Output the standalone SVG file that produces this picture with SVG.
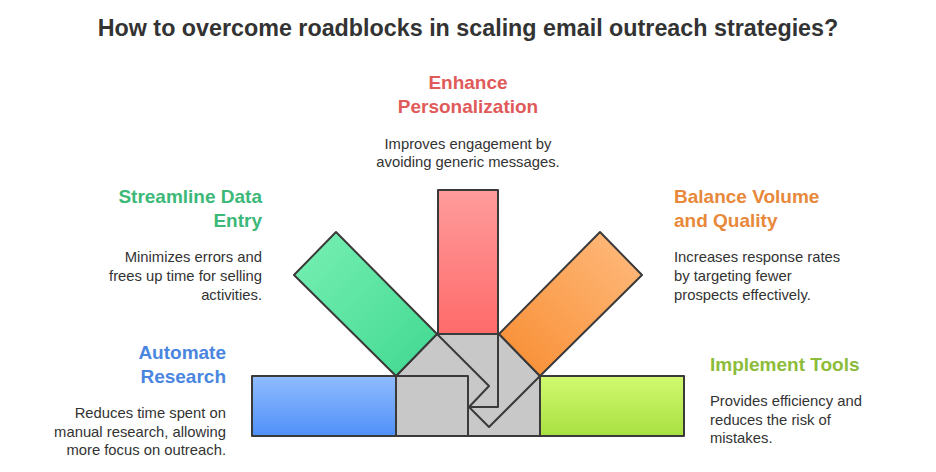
<svg xmlns="http://www.w3.org/2000/svg" width="936" height="472" viewBox="0 0 936 472">
<defs>
<linearGradient id="gR" x1="0" y1="0" x2="0" y2="1"><stop offset="0" stop-color="#ff9c9c"/><stop offset="1" stop-color="#ff6a6a"/></linearGradient>
<linearGradient id="gG" x1="0" y1="0" x2="1" y2="1"><stop offset="0" stop-color="#78f0b4"/><stop offset="1" stop-color="#40d890"/></linearGradient>
<linearGradient id="gO" x1="1" y1="0" x2="0" y2="1"><stop offset="0" stop-color="#ffbc80"/><stop offset="1" stop-color="#f88c30"/></linearGradient>
<linearGradient id="gB" x1="0" y1="0" x2="0" y2="1"><stop offset="0" stop-color="#90bcff"/><stop offset="1" stop-color="#5090f8"/></linearGradient>
<linearGradient id="gL" x1="0" y1="0" x2="0" y2="1"><stop offset="0" stop-color="#d2fa70"/><stop offset="1" stop-color="#a8e040"/></linearGradient>
</defs>
<style>
.s{stroke:#3a3a3a;stroke-width:2;stroke-linejoin:round}
.h{font-family:"Liberation Sans",Arial,sans-serif;font-weight:bold;font-size:19px}
.d{font-family:"Liberation Sans",Arial,sans-serif;font-size:14.8px;fill:#333}
.e{text-anchor:end}.m{text-anchor:middle}
</style>
<text x="468" y="36" class="h m" style="font-size:23.3px" fill="#333">How to overcome roadblocks in scaling email outreach strategies?</text>
<g id="connectors">
<polygon points="396,376 437,334 499,334 540,376 540,436 396,436" fill="#c8c8c8" class="s"/>
<path d="M396,376 H468 V436 M437,334 L489,386 L469,407 M498,334 V407 H469 M540,376 L489,427 L469,407" fill="none" class="s"/>
</g>
<g id="personalization">
<rect x="438" y="190" width="60" height="144" fill="url(#gR)" class="s"/>
<text x="468" y="89" class="h m" fill="#e05a5a">Enhance</text>
<text x="468" y="113" class="h m" fill="#e05a5a">Personalization</text>
<text x="468" y="149" class="d m">Improves engagement by</text>
<text x="468" y="167" class="d m">avoiding generic messages.</text>
</g>
<g id="dataentry">
<polygon points="336,232 294,275 396,376 437,334" fill="url(#gG)" class="s"/>
<text x="262" y="203" class="h e" fill="#3cb878">Streamline Data</text>
<text x="262" y="227" class="h e" fill="#3cb878">Entry</text>
<text x="262" y="262" class="d e">Minimizes errors and</text>
<text x="262" y="281" class="d e">frees up time for selling</text>
<text x="262" y="300" class="d e">activities.</text>
</g>
<g id="balance">
<polygon points="600,232 642,275 540,376 499,334" fill="url(#gO)" class="s"/>
<text x="674" y="203" class="h" fill="#e8883a">Balance Volume</text>
<text x="674" y="227" class="h" fill="#e8883a">and Quality</text>
<text x="674" y="262" class="d">Increases response rates</text>
<text x="674" y="281" class="d">by targeting fewer</text>
<text x="674" y="300" class="d">prospects effectively.</text>
</g>
<g id="research">
<rect x="252" y="376" width="144" height="60" fill="url(#gB)" class="s"/>
<text x="226" y="359" class="h e" fill="#4a86e0">Automate</text>
<text x="226" y="383" class="h e" fill="#4a86e0">Research</text>
<text x="226" y="418" class="d e">Reduces time spent on</text>
<text x="226" y="437" class="d e">manual research, allowing</text>
<text x="226" y="455" class="d e">more focus on outreach.</text>
</g>
<g id="tools">
<rect x="540" y="376" width="144" height="60" fill="url(#gL)" class="s"/>
<text x="710" y="371" class="h" fill="#8cbc3a">Implement Tools</text>
<text x="710" y="406" class="d">Provides efficiency and</text>
<text x="710" y="425" class="d">reduces the risk of</text>
<text x="710" y="443" class="d">mistakes.</text>
</g>
</svg>
